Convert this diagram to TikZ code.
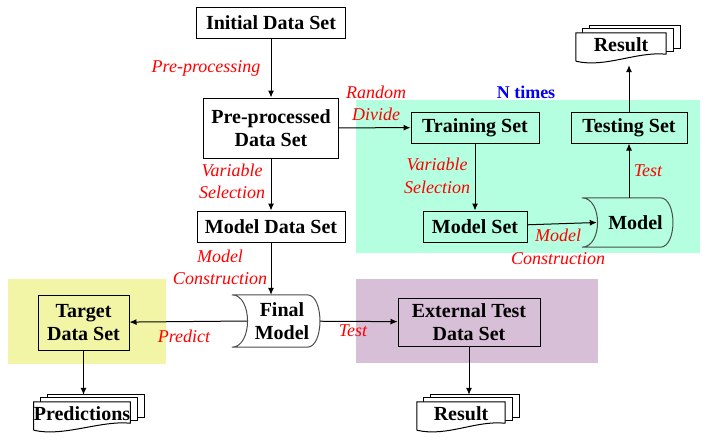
\documentclass[tikz,border=0pt]{standalone}
\usepackage{fontspec}
\setmainfont{Liberation Serif}
\usepackage{xcolor}
\definecolor{cmint}{RGB}{179,255,224}
\definecolor{cthistle}{RGB}{216,191,216}
\definecolor{clemon}{RGB}{241,245,165}
\usepackage{tikz}
\usetikzlibrary{arrows.meta, backgrounds}
\tikzset{
BoxFont/.style={
	font=\bfseries\fontsize{20}{23}\selectfont
},
Box/.style={
	draw, line width=1pt,
	BoxFont, align=center,
	inner sep=2pt
},
Stored/.style={
	inner sep=0pt
},
Doc/.style={
	BoxFont,
	inner xsep=0pt, inner ysep=5pt,
	text height=13pt, text depth=7pt
},
EdgeLabel/.style={
	font=\itshape\fontsize{18}{22.5}\selectfont,
	text=red, align=center,
	inner sep=0pt
},
Edge/.style={
	draw=black, line width=1pt,
	-{Latex[length=7pt,width=6pt]}
}
}
\newcommand{\storeddata}[1]{%
	\draw[line width=1pt, draw=black!70] (#1.north west) -- ([xshift=-13pt]#1.north east)
		.. controls ([xshift=4pt]#1.north east) and ([xshift=4pt]#1.south east) .. ([xshift=-13pt]#1.south east)
		-- (#1.south west)
		.. controls ([xshift=21pt]#1.south west) and ([xshift=21pt]#1.north west) .. (#1.north west);
}
\newcommand{\docstack}[1]{%
	\begin{scope}[on background layer]
		\foreach \dx/\dy/\dz in {14/7/15, 7/4/12}
			\draw[line width=1pt, fill=white] ([shift={(\dx pt,\dy pt)}]#1.north west) rectangle ([shift={(\dx pt,\dz pt)}]#1.south east);
		\draw[line width=1pt, fill=white] ([yshift=2pt]#1.south west) -- (#1.north west) -- (#1.north east) -- ([yshift=9pt]#1.south east)
			.. controls ([xshift=-30pt,yshift=12pt]#1.south east) and ([xshift=30pt,yshift=-5pt]#1.south west) .. ([yshift=2pt]#1.south west);
	\end{scope}
}

\begin{document}
\begin{tikzpicture}[x=1pt, y=-1pt]
	\useasboundingbox (0,0) rectangle (706,440);
	% shaded areas
	\fill[cmint] (356,100) rectangle (700,253);
	\fill[cthistle] (356,279) rectangle (598,363);
	\fill[clemon] (8,279) rectangle (166,364);

	\node[Box, minimum width=149pt, minimum height=31pt] (init) at (271,23) {Initial Data Set};
	\node[Box, minimum width=135pt, minimum height=60pt] (prep) at (271,128) {Pre-processed\\Data Set};
	\node[Box, minimum width=148pt, minimum height=31pt] (mds) at (271,226.5) {Model Data Set};
	\node[Box, minimum width=128pt, minimum height=31pt] (train) at (475,127.5) {Training Set};
	\node[Box, minimum width=116pt, minimum height=31pt] (test) at (629,127.5) {Testing Set};
	\node[Box, minimum width=104pt, minimum height=31pt] (mset) at (475,226.5) {Model Set};
	\node[Box, minimum width=91pt, minimum height=55pt] (target) at (83.5,322.5) {Target\\Data Set};
	\node[Box, minimum width=142pt, minimum height=48pt] (ext) at (469,322) {External Test\\Data Set};

	\node[Stored, minimum width=91pt, minimum height=49pt, label={[BoxFont, xshift=8pt, name=modeltxt]center:Model}] (model) at (627.5,222.5) {};
	\node[Stored, minimum width=88pt, minimum height=52pt, label={[BoxFont, align=center, xshift=6pt, name=finaltxt]center:Final\\Model}] (final) at (276,321) {};
	\storeddata{model}
	\storeddata{final}

	\node[Doc, minimum width=90pt, minimum height=30pt] (res1) at (621,48) {Result};
	\node[Doc, minimum width=95pt, minimum height=30pt] (preds) at (82,417) {Predictions};
	\node[Doc, minimum width=88pt, minimum height=30pt] (res2) at (461,417) {Result};
	\docstack{res1}
	\docstack{preds}
	\docstack{res2}

	\draw[Edge] (init) -- (prep);
	\draw[Edge] (prep) -- (train);
	\draw[Edge] (prep) -- (mds);
	\draw[Edge] (mds) -- (mds |- final.north);
	\draw[Edge] (train) -- (mset);
	\draw[Edge] (mset) -- ([xshift=15pt]model.west);
	\draw[Edge] (model.north -| test) -- (test);
	\draw[Edge, shorten >=2pt] (test) -- (test |- res1.south);
	\draw[Edge] ([xshift=15pt]final.west) -- (target);
	\draw[Edge] (final) -- (ext);
	\draw[Edge, shorten >=7pt] (target) -- (target |- preds.north);
	\draw[Edge, shorten >=7pt] (ext) -- (ext |- res2.north);

	\node[EdgeLabel] (lpre) at (206,68) {Pre-processing};
	\node[EdgeLabel] (ldiv) at (376,103.5) {Random\\Divide};
	\node[EdgeLabel] (lsel) at (232,181.5) {Variable\\Selection};
	\node[EdgeLabel] (lsel2) at (437,176) {Variable\\Selection};
	\node[EdgeLabel] (lcon) at (220,267.5) {Model\\Construction};
	\node[EdgeLabel] (lcon2) at (558,247) {Model\\Construction};
	\node[EdgeLabel] (ltest) at (648,171) {Test};
	\node[EdgeLabel] (lpredict) at (184,336) {Predict};
	\node[EdgeLabel] (ltest2) at (353,331) {Test};
	\node[font=\bfseries\fontsize{18}{22}\selectfont, text=blue] (ntimes) at (526,92) {N times};
\end{tikzpicture}
\end{document}
